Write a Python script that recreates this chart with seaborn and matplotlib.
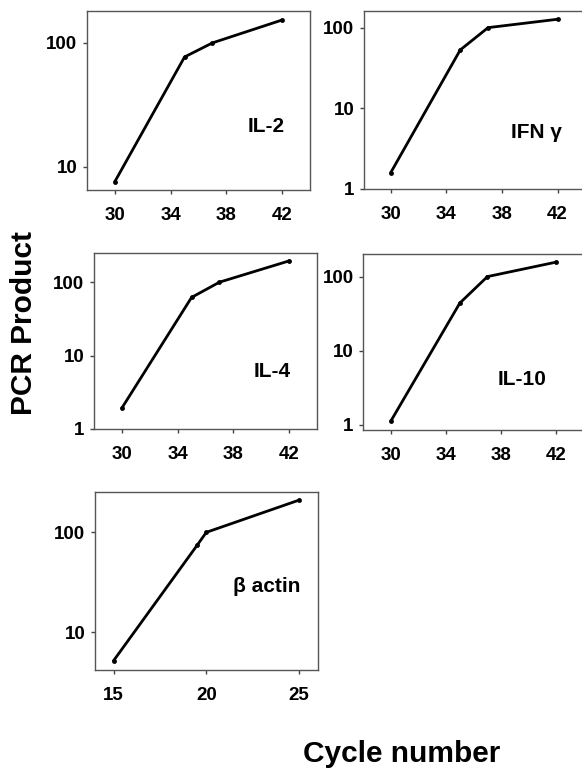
import numpy as np
import pandas as pd
import seaborn as sns
import matplotlib.pyplot as plt
import matplotlib.ticker as mticker

# values (PCR product vs cycle number, log scale)
il2_cycles = [30, 35, 37, 42]
il2_pcr = [7.6, 77, 100, 153]

ifng_cycles = [30, 35, 37, 42]
ifng_pcr = [1.6, 53, 100, 127]

il4_cycles = [30, 35, 37, 42]
il4_pcr = [1.93, 62, 100, 195]

il10_cycles = [30, 35, 37, 42]
il10_pcr = [1.13, 44, 100, 157]

bactin_cycles = [15, 19.5, 20, 25]
bactin_pcr = [5.2, 74, 100, 210]

cyto_xticks = [30, 34, 38, 42]
actin_xticks = [15, 20, 25]

sns.set_theme(style='ticks')
plt.rcParams['font.family'] = ['Liberation Sans', 'DejaVu Sans']
plt.rcParams['font.weight'] = 'bold'
plt.rcParams['text.color'] = 'black'
plt.rcParams['xtick.color'] = 'black'
plt.rcParams['ytick.color'] = 'black'

fig = plt.figure(figsize=(5.82, 7.71), dpi=100)

panels = [
    # name, x, y, axes rect, xlim, ylim, yticks, xticks, label pos
    ('IL-2', il2_cycles, il2_pcr, [0.1495, 0.7536, 0.3832, 0.2322], (28, 44), (6.5, 181), [10, 100], cyto_xticks, (0.805, 0.352)),
    ('IFN γ', ifng_cycles, ifng_pcr, [0.6254, 0.7549, 0.378, 0.2309], (28.07, 43.9), (1, 161), [1, 10, 100], cyto_xticks, (0.785, 0.315)),
    ('IL-4', il4_cycles, il4_pcr, [0.1615, 0.4436, 0.3832, 0.2283], (28, 44), (1, 250), [1, 10, 100], cyto_xticks, (0.797, 0.326)),
    ('IL-10', il10_cycles, il10_pcr, [0.6242, 0.4423, 0.3792, 0.2279], (28, 44), (0.855, 200), [1, 10, 100], cyto_xticks, (0.718, 0.289)),
    ('β actin', bactin_cycles, bactin_pcr, [0.1632, 0.1310, 0.3826, 0.2313], (14, 26), (4.2, 255), [10, 100], actin_xticks, (0.772, 0.467)),
]

for name, xs, ys, rect, xlim, ylim, yticks, xticks, lpos in panels:
    ax = fig.add_axes(rect)
    df = pd.DataFrame({'cycle': xs, 'pcr': ys})
    sns.lineplot(data=df, x='cycle', y='pcr', ax=ax, color='black', linewidth=2,
                 marker='o', markersize=3.5, markeredgewidth=0)
    ax.set_yscale('log')
    ax.set_xlim(*xlim)
    ax.set_ylim(*ylim)
    ax.set_xticks(xticks)
    ax.set_yticks(yticks)
    ax.yaxis.set_major_formatter(mticker.FormatStrFormatter('%d'))
    ax.yaxis.set_minor_locator(mticker.NullLocator())
    ax.set_xlabel('')
    ax.set_ylabel('')
    for s in ax.spines.values():
        s.set_color('#555555')
        s.set_linewidth(1.0)
    ax.tick_params(axis='both', labelsize=13.5, length=3, width=1, color='#444444',
                   labelcolor='black')
    ax.tick_params(axis='x', pad=9)
    ax.tick_params(axis='y', pad=4)
    for lab in ax.get_xticklabels() + ax.get_yticklabels():
        lab.set_fontweight('bold')
    ax.text(lpos[0], lpos[1], name, transform=ax.transAxes, ha='center', va='center',
            fontsize=15, fontweight='bold', color='black')

fig.text(0.041, 0.581, 'PCR Product', rotation=90, ha='center', va='center',
         fontsize=21.5, fontweight='bold', color='black')
fig.text(0.69, 0.022, 'Cycle number', ha='center', va='center',
         fontsize=21.5, fontweight='bold', color='black')

fig.savefig('out.png', dpi=100)
